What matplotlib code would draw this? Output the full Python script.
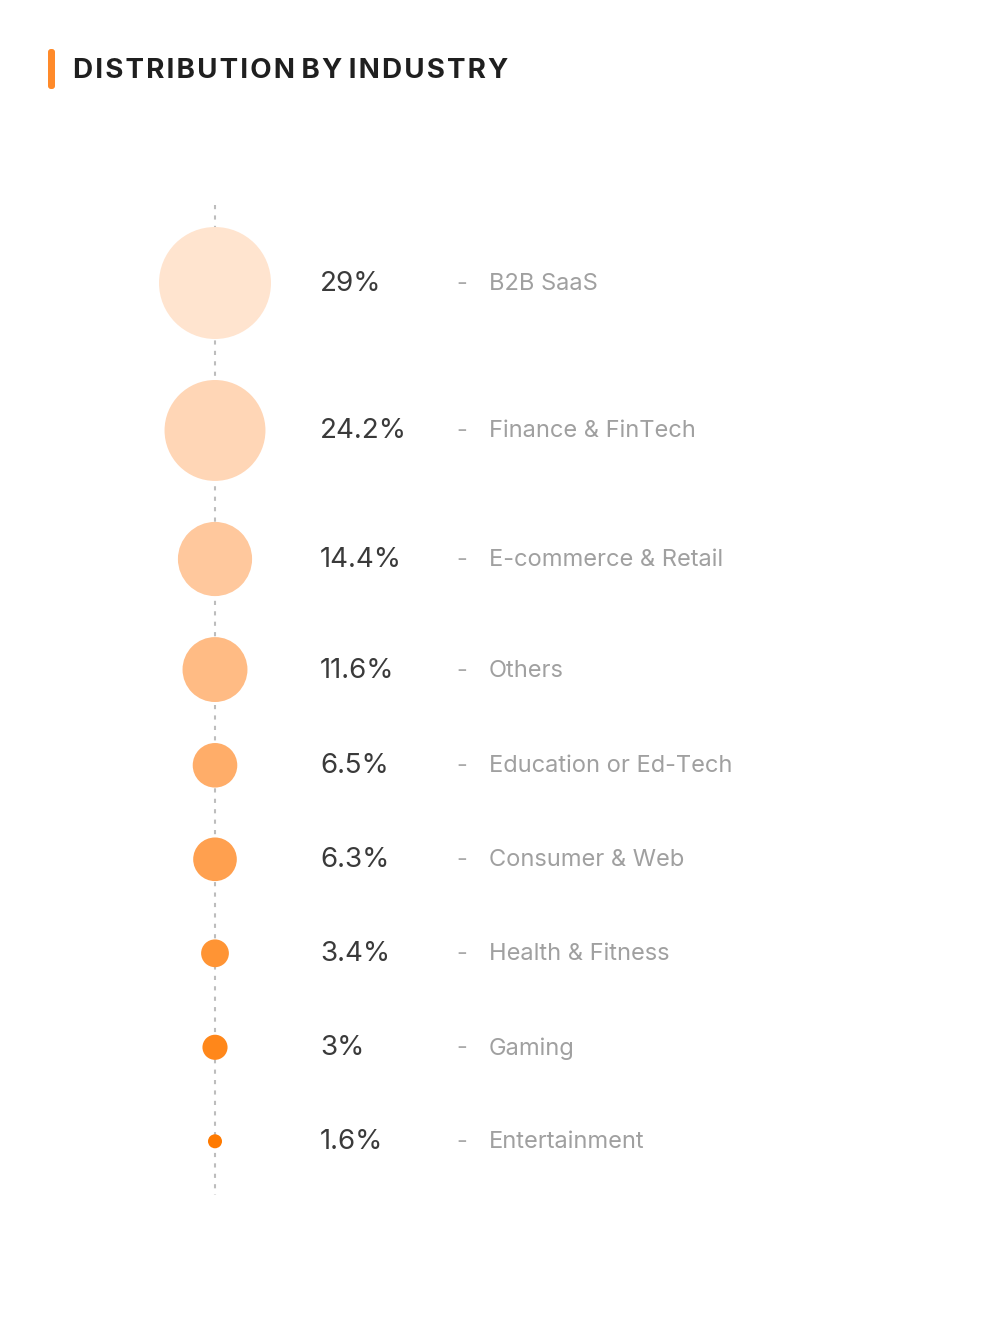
import matplotlib.pyplot as plt
import numpy as np
from matplotlib.patches import Circle, FancyBboxPatch
from matplotlib.colors import LinearSegmentedColormap

plt.rcParams['font.family'] = 'Inter'

industries = ['B2B SaaS', 'Finance & FinTech', 'E-commerce & Retail', 'Others',
              'Education or Ed-Tech', 'Consumer & Web', 'Health & Fitness',
              'Gaming', 'Entertainment']
shares = [29, 24.2, 14.4, 11.6, 6.5, 6.3, 3.4, 3, 1.6]
share_labels = ['29%', '24.2%', '14.4%', '11.6%', '6.5%', '6.3%', '3.4%', '3%', '1.6%']

W, H = 992, 1344
fig = plt.figure(figsize=(W / 100, H / 100), dpi=100)
ax = fig.add_axes([0, 0, 1, 1])
ax.set_xlim(0, W)
ax.set_ylim(H, 0)
ax.set_aspect('equal')
ax.axis('off')

# title
ax.add_patch(FancyBboxPatch((48, 49), 7, 40, boxstyle='round,pad=0,rounding_size=3',
                            color='#FF8A2A', lw=0))
ax.text(73, 71, 'D I S T R I B U T I O N   B Y   I N D U S T R Y'.replace(' ', '\u200a'),
        fontsize=20, fontweight='bold', color='#1f1f1f', va='center', ha='left')

# radius from share (sqrt scale)
s = np.sqrt(np.array(shares))
radii = 7 + (s - s.min()) / (s.max() - s.min()) * 49

# vertical positions stacked by size
ys = [283.0]
for i in range(1, len(shares)):
    ys.append(ys[-1] + max(94, radii[i - 1] + radii[i] + 41))

cmap = LinearSegmentedColormap.from_list(
    'o', [(0, '#FFE4CF'), (0.4, '#FFB87F'), (1, '#FF7A00')])
cx = 215
ax.plot([cx, cx], [205, ys[-1] + 54], ls=(0, (2, 3)), color='#bdbdbd', lw=1.5, zorder=1)

for i, (y, r) in enumerate(zip(ys, radii)):
    col = cmap(i / (len(shares) - 1))
    ax.add_patch(Circle((cx, y), r, color=col, lw=0, zorder=2))
    ax.text(320, y + 1, share_labels[i], fontsize=20, color='#3a3a3a', va='center', ha='left')
    ax.text(462, y + 1, '-', fontsize=17, color='#aaaaaa', va='center', ha='center')
    ax.text(489, y + 1, industries[i], fontsize=17, color='#a0a0a0', va='center', ha='left')

fig.savefig('out.png', dpi=100, facecolor='white')
